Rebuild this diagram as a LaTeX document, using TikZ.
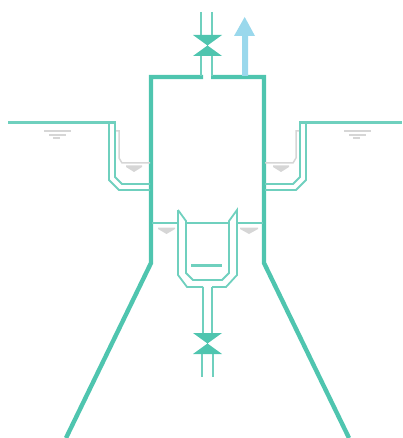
\documentclass[tikz,border=0pt]{standalone}
\usepackage{tikz}
\usepackage{xcolor}
\definecolor{wallteal}{HTML}{4FC5AF}
\definecolor{pipeteal}{HTML}{6FD0BE}
\definecolor{airblue}{HTML}{9AD8EC}
\definecolor{watergray}{HTML}{D6D6D6}
\begin{document}
\begin{tikzpicture}[x=1pt, y=-1pt]
\tikzset{wall/.style={draw=wallteal, line width=4.4pt, line join=miter}}
\tikzset{pipe/.style={draw=pipeteal, line width=1.8pt, line join=miter}}
\tikzset{ground/.style={draw=pipeteal, line width=3pt}}
\tikzset{valve/.style={fill=wallteal}}
\tikzset{level/.style={draw=watergray, line width=1.5pt}}
\tikzset{tri/.style={fill=watergray}}
\useasboundingbox (0,0) rectangle (402,438);
% tank and skirt
\draw[wall] (203,77) -- (151,77) -- (151,263) -- (66,438);
\draw[wall] (211,77) -- (264,77) -- (264,263) -- (349,438);
% top pipe, valve and air arrow
\draw[pipe] (201,12) -- (201,36);
\draw[pipe] (212,12) -- (212,36);
\draw[pipe] (201,55) -- (201,76);
\draw[pipe] (212,55) -- (212,76);
\fill[valve] (193,35) -- (222,35) -- (207.5,45.5) -- (222,56) -- (193,56) -- (207.5,45.5) -- cycle;
\fill[airblue] (242,76) -- (242,36) -- (234,36) -- (244.7,17) -- (255,36) -- (248,36) -- (248,76) -- cycle;
% ground
\draw[ground] (8,123) -- (116,123);
\draw[ground] (299,123) -- (402,123);
% left trench
\draw[pipe] (109,123) -- (109,180) -- (119,190) -- (150,190);
\draw[pipe] (115,123) -- (115,177) -- (122,184) -- (150,184);
\draw[level] (116,131) -- (119,131) -- (119,158) -- (122,163) -- (150,163);
\fill[tri] (126,165.5) -- (142,165.5) -- (142,167) -- (134,172) -- (126,167) -- cycle;
% right trench
\draw[pipe] (306,123) -- (306,180) -- (296,190) -- (265,190);
\draw[pipe] (300,123) -- (300,177) -- (293,184) -- (265,184);
\draw[level] (299,131) -- (296,131) -- (296,158) -- (293,163) -- (265,163);
\fill[tri] (273,165.5) -- (289,165.5) -- (289,167) -- (281,172) -- (273,167) -- cycle;
% ground level marks
\foreach \xo in {0,300} {
  \draw[level] (44+\xo,131) -- (71+\xo,131);
  \draw[level] (49+\xo,135) -- (66+\xo,135);
  \draw[level] (53+\xo,138) -- (60+\xo,138);
}
% water line in tank
\draw[pipe] (152,223) -- (178,223);
\draw[pipe] (186,223) -- (229,223);
\draw[pipe] (237,223) -- (263,223);
\fill[tri] (158,227.5) -- (175,227.5) -- (175,229) -- (166.5,234) -- (158,229) -- cycle;
\fill[tri] (240,227.5) -- (258,227.5) -- (258,229) -- (249,234) -- (240,229) -- cycle;
% cup
\draw[pipe] (178,210) -- (186,221) -- (186,273) -- (193,280) -- (222,280) -- (229,273) -- (229,221) -- (237,210) -- (237,275) -- (226,287) -- (212,287);
\draw[pipe] (178,210) -- (178,275) -- (187,287) -- (203,287);
\draw[ground] (191,265) -- (222,265);
% bottom pipe and valve
\draw[pipe] (203,287) -- (203,334);
\draw[pipe] (212,287) -- (212,334);
\draw[pipe] (202,353) -- (202,377);
\draw[pipe] (213,353) -- (213,377);
\fill[valve] (193,333) -- (222,333) -- (207.5,343.5) -- (222,354) -- (193,354) -- (207.5,343.5) -- cycle;
\end{tikzpicture}
\end{document}
